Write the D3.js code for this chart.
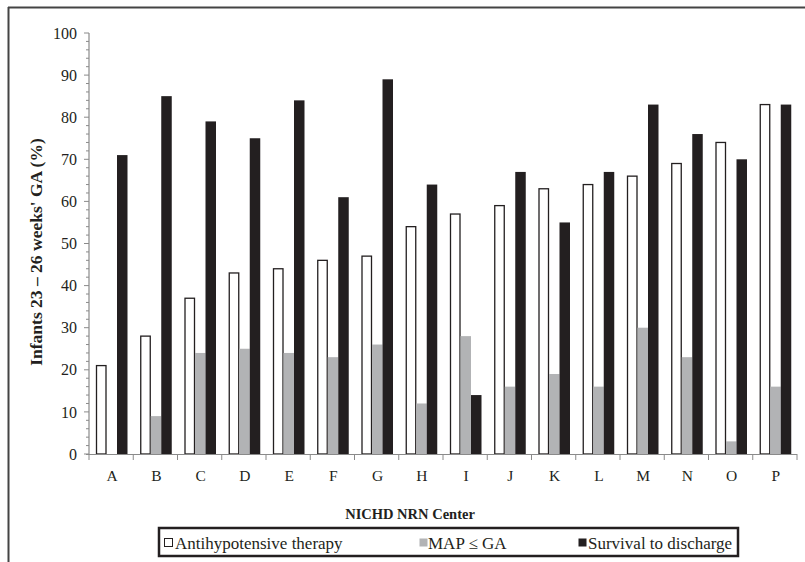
<!DOCTYPE html>
<html>
<head>
<meta charset="utf-8">
<script src="https://cdn.jsdelivr.net/npm/d3@7/dist/d3.min.js"></script>
<style>
  html, body { margin: 0; padding: 0; background: #fff; }
  svg { display: block; }
</style>
</head>
<body>
<svg id="chart" width="805" height="562"></svg>
<script>
const categories = ["A","B","C","D","E","F","G","H","I","J","K","L","M","N","O","P"];
const seriesNames = ["Antihypotensive therapy", "MAP \u2264 GA", "Survival to discharge"];
const antihypotensive = [21, 28, 37, 43, 44, 46, 47, 54, 57, 59, 63, 64, 66, 69, 74, 83];
const mapLeGA =         [0, 9, 24, 25, 24, 23, 26, 12, 28, 16, 19, 16, 30, 23, 3, 16];
const survival =        [71, 85, 79, 75, 84, 61, 89, 64, 14, 67, 55, 67, 83, 76, 70, 83];
const yTicks = [0, 10, 20, 30, 40, 50, 60, 70, 80, 90, 100];
const yTitle = "Infants 23 \u2013 26 weeks' GA (%)";
const xTitle = "NICHD NRN Center";

(function () {
const seriesValues = [antihypotensive, mapLeGA, survival];
const fills = ["#ffffff", "#b2b3b5", "#231f20"];
const strokes = ["#231f20", "none", "none"];
const FONT = '"Liberation Serif", "Times New Roman", serif';
const textColor = "#231f20";

const svg = d3.select("#chart");

// outer frame
svg.append("line").attr("x1", 8).attr("x2", 805).attr("y1", 7.5).attr("y2", 7.5)
  .attr("stroke", "#444").attr("stroke-width", 2);
svg.append("line").attr("x1", 8.5).attr("x2", 8.5).attr("y1", 7).attr("y2", 562)
  .attr("stroke", "#444").attr("stroke-width", 2);

const pLeft = 89, pRight = 797, pTop = 33, pBottom = 454;

const y = d3.scaleLinear().domain([0, 100]).range([pBottom, pTop]);
const x0 = d3.scaleBand().domain(categories).range([pLeft, pRight]).padding(0);
const x1 = d3.scaleBand().domain(seriesNames).range([7, 38.5]).padding(0);

// bars
const groups = svg.append("g").selectAll("g").data(categories).join("g")
  .attr("transform", d => `translate(${x0(d)},0)`);

groups.selectAll("rect")
  .data((c, i) => seriesNames.map((s, k) => ({ s, k, v: seriesValues[k][i] })))
  .join("rect")
  .attr("x", d => x1(d.s) + (d.k === 0 ? 0.5 : 0))
  .attr("width", d => x1.bandwidth() - (d.k === 0 ? 1 : 0))
  .attr("y", d => y(d.v))
  .attr("height", d => Math.max(0, y(0) - y(d.v)))
  .attr("fill", d => fills[d.k])
  .attr("stroke", d => strokes[d.k])
  .attr("stroke-width", 1.3)
  .attr("visibility", d => d.v > 0 ? "visible" : "hidden");

// y axis
const axisColor = "#8a8a8a";
const yAxis = svg.append("g");
yAxis.append("line").attr("x1", pLeft).attr("x2", pLeft).attr("y1", pTop).attr("y2", pBottom)
  .attr("stroke", axisColor).attr("stroke-width", 1.2);
const minor = d3.range(0, 101, 2);
yAxis.selectAll("line.minor").data(minor).join("line").attr("class", "minor")
  .attr("x1", d => yTicks.includes(d) ? pLeft - 5 : pLeft - 3).attr("x2", pLeft)
  .attr("y1", d => y(d)).attr("y2", d => y(d))
  .attr("stroke", axisColor).attr("stroke-width", 1);
yAxis.selectAll("text").data(yTicks).join("text")
  .attr("x", 77).attr("y", d => y(d)).attr("dy", "0.35em")
  .attr("text-anchor", "end").attr("font-size", 16)
  .style("font-family", FONT).attr("fill", textColor).text(d => d);

// x axis
const xAxis = svg.append("g");
xAxis.append("line").attr("x1", pLeft - 3).attr("x2", pRight).attr("y1", pBottom + 0.5).attr("y2", pBottom + 0.5)
  .attr("stroke", axisColor).attr("stroke-width", 1.2);
const bounds = categories.map(c => x0(c)).concat([pRight]);
xAxis.selectAll("line.tick").data(bounds).join("line").attr("class", "tick")
  .attr("x1", d => d).attr("x2", d => d).attr("y1", pBottom).attr("y2", pBottom + 6)
  .attr("stroke", axisColor).attr("stroke-width", 1);
xAxis.selectAll("text").data(categories).join("text")
  .attr("x", d => x0(d) + x0.bandwidth() / 2 + 1).attr("y", 481)
  .attr("text-anchor", "middle").attr("font-size", 15.5)
  .style("font-family", FONT).attr("fill", textColor).text(d => d);

// titles
svg.append("text").attr("transform", `translate(42,252) rotate(-90)`)
  .attr("text-anchor", "middle").attr("font-size", 17.5).attr("font-weight", "bold")
  .style("font-family", FONT).attr("fill", textColor).text(yTitle);
svg.append("text").attr("x", 410).attr("y", 519)
  .attr("text-anchor", "middle").attr("font-size", 14.5).attr("font-weight", "bold")
  .style("font-family", FONT).attr("fill", textColor).text(xTitle);

// legend
svg.append("rect").attr("x", 159).attr("y", 528).attr("width", 579).attr("height", 28)
  .attr("fill", "none").attr("stroke", "#231f20").attr("stroke-width", 2.5);
const legendX = [[164, 175], [419, 428], [578, 588]];
const lg = svg.append("g").selectAll("g").data(seriesNames).join("g");
lg.append("rect")
  .attr("x", (d, i) => legendX[i][0] + 0.5).attr("y", 538.5)
  .attr("width", 8).attr("height", 8)
  .attr("fill", (d, i) => fills[i])
  .attr("stroke", (d, i) => strokes[i]).attr("stroke-width", 1);
lg.append("text")
  .attr("x", (d, i) => legendX[i][1]).attr("y", 549)
  .attr("font-size", 17).style("font-family", FONT).attr("fill", textColor).text(d => d);
})();
</script>
</body>
</html>
